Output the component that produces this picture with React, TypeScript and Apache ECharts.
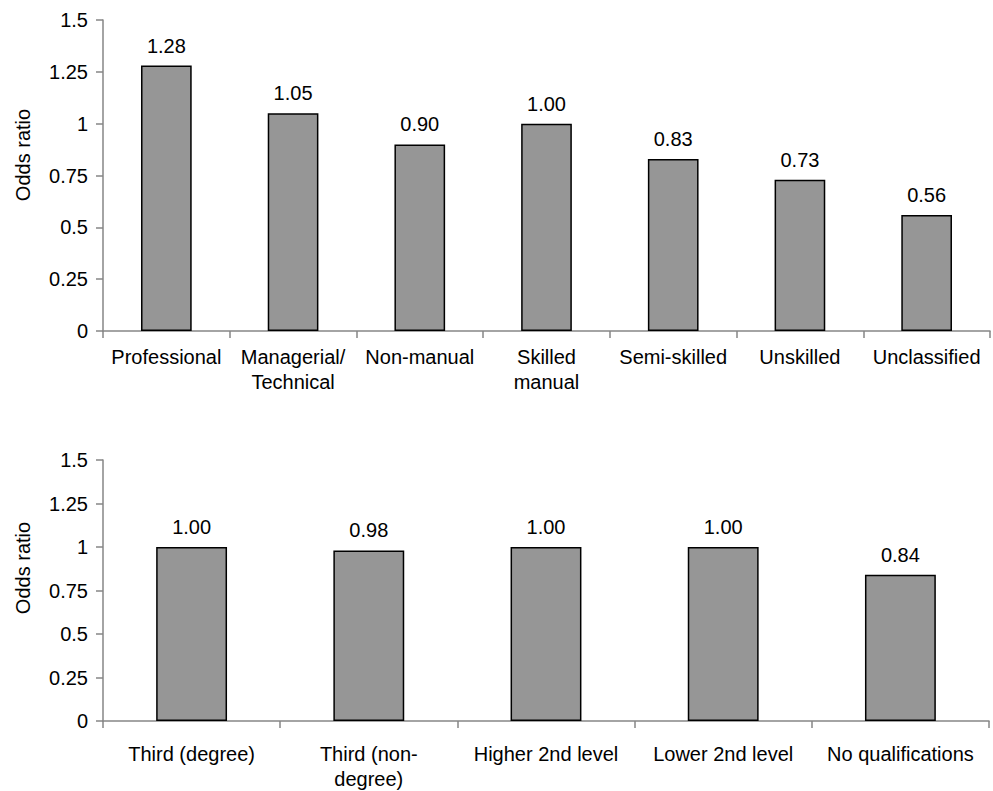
import React, { useEffect, useRef } from "react";
import * as echarts from "echarts";

const occupationCategories = [
  "Professional",
  "Managerial/\nTechnical",
  "Non-manual",
  "Skilled\nmanual",
  "Semi-skilled",
  "Unskilled",
  "Unclassified",
];
const occupationValues = [1.28, 1.05, 0.9, 1.0, 0.83, 0.73, 0.56];

const educationCategories = [
  "Third (degree)",
  "Third (non-\ndegree)",
  "Higher 2nd level",
  "Lower 2nd level",
  "No qualifications",
];
const educationValues = [1.0, 0.98, 1.0, 1.0, 0.84];

const yTicks = { min: 0, max: 1.5, interval: 0.25 };
const yAxisTitle = "Odds ratio";

const FONT = "'Liberation Sans', Arial, sans-serif";
const AXIS_GREY = "#868686";
const FS = 20;

export default function App() {
  const ref = useRef<HTMLDivElement>(null);

  useEffect(() => {
    if (!ref.current) return;
    const chart = echarts.init(ref.current, undefined, { renderer: "svg" });

    const xAxisCommon = (margin: number) => ({
      type: "category" as const,
      axisLine: { show: true, lineStyle: { color: AXIS_GREY, width: 1.5 } },
      axisTick: {
        show: true,
        length: 7,
        interval: 0,
        alignWithLabel: false,
        lineStyle: { color: AXIS_GREY, width: 1.5 },
      },
      axisLabel: {
        interval: 0,
        margin,
        color: "#000",
        fontFamily: FONT,
        fontSize: FS,
        lineHeight: 25,
      },
    });

    const yAxisCommon = {
      type: "value" as const,
      min: yTicks.min,
      max: yTicks.max,
      interval: yTicks.interval,
      splitLine: { show: false },
      axisLine: { show: true, lineStyle: { color: AXIS_GREY, width: 1.5 } },
      axisTick: { show: true, length: 7, lineStyle: { color: AXIS_GREY, width: 1.5 } },
      axisLabel: {
        margin: 15,
        color: "#000",
        fontFamily: FONT,
        fontSize: FS,
      },
    };

    const barCommon = {
      type: "bar" as const,
      barWidth: "40%",
      itemStyle: { color: "#969696", borderColor: "#000", borderWidth: 1.5 },
      label: {
        show: true,
        position: "top" as const,
        distance: 10,
        color: "#000",
        fontFamily: FONT,
        fontSize: FS,
        formatter: (p: any) => Number(p.value).toFixed(2),
      },
    };

    const axisTitle = (y: number) => ({
      type: "text" as const,
      x: 23,
      y,
      rotation: Math.PI / 2,
      style: {
        text: yAxisTitle,
        fontFamily: FONT,
        fontSize: FS,
        fill: "#000",
        align: "center" as const,
        verticalAlign: "middle" as const,
      },
    });

    chart.setOption({
      animation: false,
      textStyle: { fontFamily: FONT },
      grid: [
        { left: 103, top: 20, width: 887, height: 311 },
        { left: 103, top: 460, width: 886, height: 261 },
      ],
      xAxis: [
        { ...xAxisCommon(13), gridIndex: 0, data: occupationCategories },
        { ...xAxisCommon(20), gridIndex: 1, data: educationCategories },
      ],
      yAxis: [
        { ...yAxisCommon, gridIndex: 0 },
        { ...yAxisCommon, gridIndex: 1 },
      ],
      series: [
        { ...barCommon, xAxisIndex: 0, yAxisIndex: 0, data: occupationValues },
        { ...barCommon, xAxisIndex: 1, yAxisIndex: 1, data: educationValues },
      ],
      graphic: [axisTitle(155), axisTitle(568)],
    });

    return () => chart.dispose();
  }, []);

  return (
    <div
      ref={ref}
      style={{ position: "absolute", left: 0, top: 0, width: 993, height: 791, background: "#fff" }}
    />
  );
}
